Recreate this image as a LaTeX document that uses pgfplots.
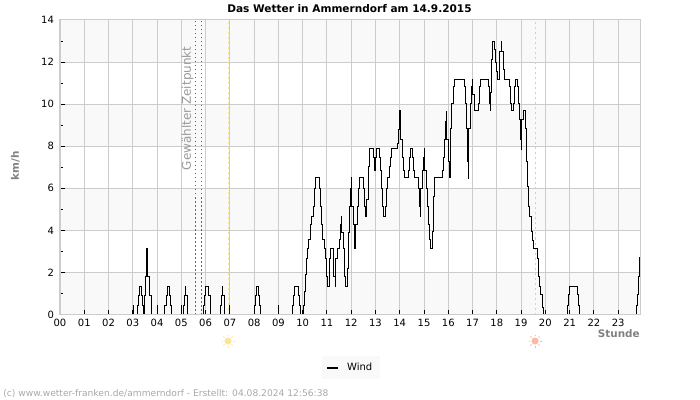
\documentclass[border=0pt]{standalone}
\usepackage{fontspec}
\setmainfont{DejaVu Sans}
\usepackage{pgfplots}
\pgfplotsset{compat=1.18}
\usetikzlibrary{calc}

\definecolor{gridgrey}{HTML}{CCCCCC}
\definecolor{bandgrey}{HTML}{F9F9F9}
\definecolor{labelgrey}{HTML}{808080}
\definecolor{notegrey}{HTML}{999999}
\definecolor{footgrey}{HTML}{A8A8A8}
\definecolor{riseyellow}{HTML}{F8E880}
\definecolor{setorange}{HTML}{F8C88C}
\definecolor{sunrise}{HTML}{FBE59A}
\definecolor{sunset}{HTML}{FCB8A2}

% small sun symbol: disc and eight rays
\newcommand{\sun}[3]{%
  \fill[#3] (#1,#2) circle (3.5);
  \foreach \a in {0,45,...,315}
    \draw[#3,line width=0.6pt] ($(#1,#2)+(\a:4.8)$) -- ($(#1,#2)+(\a:6.5)$);
}

\begin{document}
\begin{tikzpicture}
\begin{axis}[
    set layers,
    scale only axis,
    width=435pt, height=220.875pt,
    xmin=0, xmax=23.9, ymin=0, ymax=14,
    axis line style={gridgrey, line width=0.75pt},
    grid=major,
    grid style={gridgrey, line width=0.75pt},
    tick style={black, line width=0.75pt},
    major tick length=3.75pt,
    minor tick length=2.25pt,
    xtick={0,1,...,23},
    xticklabels={00,01,02,03,04,05,06,07,08,09,10,11,12,13,14,15,16,17,18,19,20,21,22,23},
    ytick={0,2,...,14},
    minor y tick num=1,
    xtick pos=bottom, ytick pos=left,
    tick label style={font=\fontsize{7.5pt}{9pt}\selectfont, black},
    /pgf/number format/assume math mode=true,
    xticklabel style={yshift=0pt},
    yticklabel style={xshift=-1pt},
    legend style={
        at={(axis description cs:0.501,-0.18)}, anchor=center,
        draw=none, fill=bandgrey,
        font=\fontsize{7.5pt}{9pt}\selectfont,
        inner xsep=3.5pt, inner ysep=3pt,
        /tikz/every odd column/.append style={column sep=4pt},
    },
    legend image code/.code={
        \draw[#1, line width=1.5pt] (0pt,0pt) -- (8.25pt,0pt);
    },
]

% alternating bands behind the grid
\begin{pgfonlayer}{axis background}
  \fill[bandgrey] (axis cs:0,0) rectangle (axis cs:23.9,2);
  \fill[bandgrey] (axis cs:0,4) rectangle (axis cs:23.9,6);
  \fill[bandgrey] (axis cs:0,8) rectangle (axis cs:23.9,10);
  \fill[bandgrey] (axis cs:0,12) rectangle (axis cs:23.9,14);
\end{pgfonlayer}

% selected time, sunrise and sunset markers
\addplot[forget plot, dash pattern=on 0.9pt off 2.1pt, black!60, line width=0.6pt] coordinates {(5.57,0) (5.57,14)};
\addplot[forget plot, dash pattern=on 0.9pt off 2.1pt, black!60, line width=0.6pt] coordinates {(5.82,0) (5.82,14)};
\addplot[forget plot, dash pattern=on 1.5pt off 2.25pt, riseyellow, line width=0.75pt] coordinates {(6.95,0) (6.95,14)};
\addplot[forget plot, dash pattern=on 1.5pt off 2.25pt, setorange, line width=0.75pt] coordinates {(19.58,0) (19.58,14)};

\addplot[const plot, black, line width=0.75pt] coordinates {
(0,0) (3.01,0.45) (3.02,0) (3.18,0.45) (3.22,0.9) (3.26,1.35) (3.36,0.9) (3.40,0.45) (3.44,0)
(3.49,0.9) (3.54,1.8) (3.58,3.15) (3.60,1.8) (3.70,0.9) (3.78,0)
(4.00,0.45) (4.01,0)
(4.32,0.45) (4.39,0.9) (4.43,1.35) (4.51,0.9) (4.57,0.45) (4.61,0)
(4.99,0.45) (5.00,0) (5.07,0.45) (5.11,0.9) (5.16,1.35) (5.18,0.9) (5.24,0)
(5.90,0.45) (5.94,0.9) (6.01,1.35) (6.12,0.9) (6.19,0)
(6.60,0.45) (6.64,0.9) (6.68,1.35) (6.70,0.9) (6.76,0)
(6.99,0.45) (7.00,0)
(8.00,0.45) (8.05,0.9) (8.10,1.35) (8.16,0.9) (8.23,0.45) (8.27,0)
(8.99,0.45) (9.00,0)
(9.57,0.45) (9.61,0.9) (9.65,1.35) (9.81,0.9) (9.88,0.45) (9.92,0)
(10.02,0.45) (10.07,1.1) (10.11,1.88) (10.16,2.67) (10.20,3.15) (10.26,3.55) (10.31,4.26) (10.36,4.66)
(10.43,5.13) (10.47,6.0) (10.51,6.49) (10.68,6.0) (10.72,5.13) (10.77,4.26) (10.81,3.55) (10.88,3.15)
(10.95,2.67) (10.99,1.8) (11.02,1.35) (11.10,2.67) (11.16,3.15) (11.25,2.67) (11.29,1.8) (11.34,1.35)
(11.36,2.67) (11.42,3.15) (11.50,3.55) (11.56,4.26) (11.60,4.66) (11.62,3.9) (11.67,3.15) (11.71,1.8)
(11.76,1.35) (11.84,2.2) (11.89,3.9) (11.91,5.13) (11.97,6.0) (12.00,6.49) (12.02,5.13) (12.09,4.26)
(12.15,3.15) (12.17,4.26) (12.24,5.13) (12.30,6.0) (12.35,6.49) (12.52,6.0) (12.56,5.13) (12.60,4.66)
(12.65,5.45) (12.70,7.04) (12.75,7.87) (12.92,7.48) (12.96,6.85) (13.00,7.48) (13.04,7.87) (13.15,7.48)
(13.19,6.85) (13.25,6.0) (13.29,5.13) (13.33,4.66) (13.41,5.13) (13.44,6.0) (13.49,6.49) (13.56,7.04)
(13.63,7.48) (13.67,7.87) (13.89,8.15) (13.93,8.79) (13.97,9.34) (14.01,9.69) (14.03,8.31) (14.11,7.48)
(14.15,6.85) (14.19,6.49) (14.34,6.85) (14.39,7.48) (14.44,7.87) (14.52,7.48) (14.56,6.85) (14.60,6.49)
(14.76,6.0) (14.80,5.13) (14.84,4.66) (14.86,6.0) (14.93,6.85) (14.98,7.48) (15.00,7.87) (15.02,6.85)
(15.10,6.0) (15.14,5.13) (15.18,4.26) (15.22,3.55) (15.26,3.15) (15.35,3.95) (15.39,5.6) (15.43,6.49)
(15.75,6.85) (15.79,7.48) (15.83,8.31) (15.87,9.18) (15.91,9.66) (15.93,8.31) (15.99,7.28) (16.07,6.49)
(16.10,8.86) (16.14,10.05) (16.20,10.85) (16.24,11.19) (16.65,10.85) (16.71,10.05) (16.75,8.86) (16.79,7.27)
(16.82,6.48) (16.84,8.86) (16.90,10.05) (16.94,10.85) (16.98,11.19) (17.00,10.45) (17.08,10.05) (17.10,9.69)
(17.23,10.05) (17.27,10.85) (17.32,11.19) (17.64,10.85) (17.68,10.05) (17.72,9.69) (17.75,10.53) (17.78,12.1)
(17.82,12.99) (17.89,12.6) (17.93,12.0) (17.98,11.56) (18.03,11.19) (18.09,11.64) (18.13,12.5) (18.18,13.0)
(18.20,12.5) (18.26,11.64) (18.30,11.19) (18.51,10.85) (18.55,10.05) (18.59,9.69) (18.67,10.05) (18.71,10.85)
(18.75,11.19) (18.84,10.85) (18.88,10.05) (18.92,9.26) (18.97,8.3) (19.00,7.86) (19.02,9.26) (19.08,9.69)
(19.17,8.86) (19.22,7.27) (19.26,6.08) (19.30,5.13) (19.34,4.66) (19.43,3.94) (19.47,3.54) (19.51,3.15)
(19.66,2.67) (19.70,1.8) (19.74,1.35) (19.82,0.95) (19.88,0.32) (19.93,0)
(20.90,0.45) (20.94,0.95) (20.98,1.35) (21.31,0.95) (21.36,0.45) (21.40,0)
(23.74,0.45) (23.78,0.95) (23.82,1.8) (23.86,2.7) (23.9,2.7)
};
\addlegendentry{Wind}

% grey base line stays above the zero stretches of the series
\begin{pgfonlayer}{axis foreground}
  \draw[gridgrey, line width=1pt] (axis cs:0,0) -- (axis cs:23.9,0);
\end{pgfonlayer}
\end{axis}

% texts and symbols around the axis, in page units from the top left corner
\begin{scope}[shift={(-45pt,235.875pt)}, x=0.75pt, y=-0.75pt]
  \path[use as bounding box] (0,0) rectangle (700,400);
  \node[font=\bfseries\fontsize{7.9pt}{9pt}\selectfont] at (349.5,8.5) {Das Wetter in Ammerndorf am 14.9.2015};
  \node[rotate=90, font=\bfseries\fontsize{7.8pt}{9pt}\selectfont, labelgrey] at (15.5,166) {km/h};
  \node[anchor=east, inner sep=0pt, font=\bfseries\fontsize{7.8pt}{9pt}\selectfont, labelgrey] at (640,334) {Stunde};
  \node[rotate=90, anchor=west, inner sep=0pt, font=\fontsize{9pt}{10pt}\selectfont, notegrey] at (187.5,170.5) {Gewählter Zeitpunkt};
  \node[anchor=west, inner sep=0pt, font=\fontsize{6.85pt}{8pt}\selectfont, footgrey] at (3,393.5) {(c) www.wetter-franken.de/ammerndorf - Erstellt: 04.08.2024 12:56:38};
  \sun{228}{341}{sunrise}
  \sun{535}{341}{sunset}
\end{scope}
\end{tikzpicture}
\end{document}
